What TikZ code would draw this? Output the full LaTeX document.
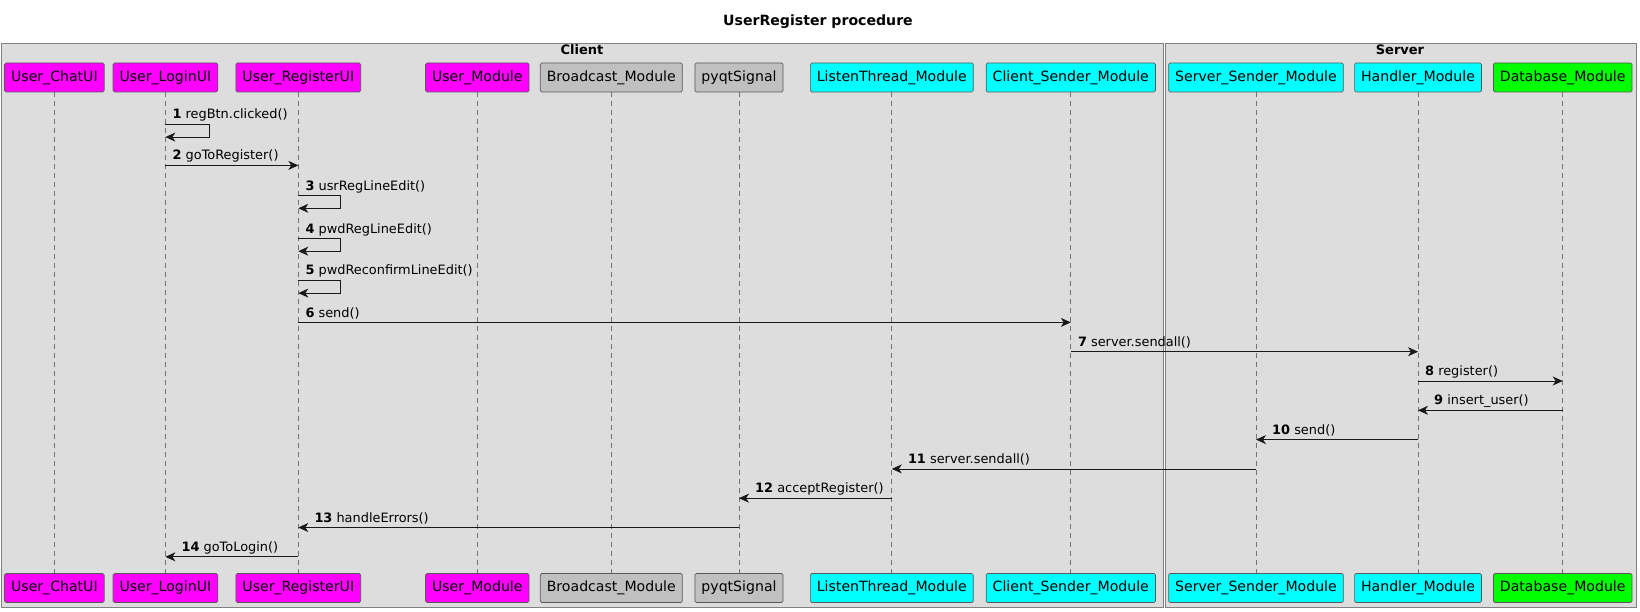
\documentclass[tikz,border=0pt]{standalone}
\usepackage{fontspec}
\setmainfont{DejaVu Sans}
\usetikzlibrary{arrows.meta}
\definecolor{grpbg}{HTML}{DDDDDD}
\definecolor{uimag}{HTML}{FF00FF}
\definecolor{modgray}{HTML}{C0C0C0}
\definecolor{netcyan}{HTML}{00FFFF}
\definecolor{dbgreen}{HTML}{00FF00}
\begin{document}
\begin{tikzpicture}[x=1pt,y=-1pt,
  part/.style={draw=black!65,line width=0.7pt,rounded corners=1.5pt,minimum height=29pt,inner xsep=6.5pt,font=\fontsize{14.1}{16}\selectfont},
  life/.style={black!55,dash pattern=on 5pt off 4pt,line width=0.7pt},
  msg/.style={line width=0.8pt,black!90,-{Stealth[length=10pt,width=9pt,inset=3pt]}},
  lbl/.style={anchor=base west,font=\fontsize{12.9}{15}\selectfont,inner sep=0pt},
  grp/.style={draw=black!50,fill=grpbg,line width=0.9pt},
  grptitle/.style={font=\bfseries\fontsize{13}{15}\selectfont}]
  \fill [white] (0,0) rectangle (1640,612);
  \useasboundingbox (0,0) rectangle (1640,612);
  \node [font=\bfseries\fontsize{14.1}{16}\selectfont] (title) at (818,22) {UserRegister procedure};
  \draw [grp] (1,43) rectangle (1163,607);
  \draw [grp] (1165,43) rectangle (1636,607);
  \node [grptitle] (client) at (582,50) {Client};
  \node [grptitle] (server) at (1400,50) {Server};
  \node [part,fill=uimag] (chat) at (54.4,77.5) {User\_ChatUI};
  \node [part,fill=uimag] (login) at (165.4,77.5) {User\_LoginUI};
  \node [part,fill=uimag] (reg) at (298.3,77.5) {User\_RegisterUI};
  \node [part,fill=uimag] (umod) at (477.3,77.5) {User\_Module};
  \node [part,fill=modgray] (bcast) at (611.3,77.5) {Broadcast\_Module};
  \node [part,fill=modgray] (sig) at (739,77.5) {pyqtSignal};
  \node [part,fill=netcyan] (listen) at (891.8,77.5) {ListenThread\_Module};
  \node [part,fill=netcyan] (csend) at (1070.8,77.5) {Client\_Sender\_Module};
  \node [part,fill=netcyan] (ssend) at (1256,77.5) {Server\_Sender\_Module};
  \node [part,fill=netcyan] (hand) at (1418,77.5) {Handler\_Module};
  \node [part,fill=dbgreen] (db) at (1562.7,77.5) {Database\_Module};
  \node [part,fill=uimag] (chatb) at (54.4,588) {User\_ChatUI};
  \node [part,fill=uimag] (loginb) at (165.4,588) {User\_LoginUI};
  \node [part,fill=uimag] (regb) at (298.3,588) {User\_RegisterUI};
  \node [part,fill=uimag] (umodb) at (477.3,588) {User\_Module};
  \node [part,fill=modgray] (bcastb) at (611.3,588) {Broadcast\_Module};
  \node [part,fill=modgray] (sigb) at (739,588) {pyqtSignal};
  \node [part,fill=netcyan] (listenb) at (891.8,588) {ListenThread\_Module};
  \node [part,fill=netcyan] (csendb) at (1070.8,588) {Client\_Sender\_Module};
  \node [part,fill=netcyan] (ssendb) at (1256,588) {Server\_Sender\_Module};
  \node [part,fill=netcyan] (handb) at (1418,588) {Handler\_Module};
  \node [part,fill=dbgreen] (dbb) at (1562.7,588) {Database\_Module};
  \draw [life] (chat) -- (chatb);
  \draw [life] (login) -- (loginb);
  \draw [life] (reg) -- (regb);
  \draw [life] (umod) -- (umodb);
  \draw [life] (bcast) -- (bcastb);
  \draw [life] (sig) -- (sigb);
  \draw [life] (listen) -- (listenb);
  \draw [life] (csend) -- (csendb);
  \draw [life] (ssend) -- (ssendb);
  \draw [life] (hand) -- (handb);
  \draw [life] (db) -- (dbb);
  \draw [msg] (login |- 0,124.6) -- ++(44,0) |- (login |- 0,137.1);
  \node [lbl] (m1) at ([xshift=7pt]login |- 0,119) {\textbf{1} regBtn.clicked()};
  \draw [msg] (login |- 0,165.4) -- (reg |- 0,165.4);
  \node [lbl] (m2) at ([xshift=7pt]login |- 0,160) {\textbf{2} goToRegister()};
  \draw [msg] (reg |- 0,195.7) -- ++(42,0) |- (reg |- 0,208.3);
  \node [lbl] (m3) at ([xshift=7pt]reg |- 0,190.2) {\textbf{3} usrRegLineEdit()};
  \draw [msg] (reg |- 0,238.6) -- ++(42,0) |- (reg |- 0,251.2);
  \node [lbl] (m4) at ([xshift=7pt]reg |- 0,233.1) {\textbf{4} pwdRegLineEdit()};
  \draw [msg] (reg |- 0,280.5) -- ++(42,0) |- (reg |- 0,293.1);
  \node [lbl] (m5) at ([xshift=7pt]reg |- 0,275) {\textbf{5} pwdReconfirmLineEdit()};
  \draw [msg] (reg |- 0,322.4) -- (csend |- 0,322.4);
  \node [lbl] (m6) at ([xshift=7pt]reg |- 0,317) {\textbf{6} send()};
  \draw [msg] (csend |- 0,351.7) -- (hand |- 0,351.7);
  \node [lbl] (m7) at ([xshift=7pt]csend |- 0,346.2) {\textbf{7} server.sendall()};
  \draw [msg] (hand |- 0,381) -- (db |- 0,381);
  \node [lbl] (m8) at ([xshift=7pt]hand |- 0,375.5) {\textbf{8} register()};
  \draw [msg] (db |- 0,410.3) -- (hand |- 0,410.3);
  \node [lbl] (m9) at ([xshift=16pt]hand |- 0,404.8) {\textbf{9} insert\_user()};
  \draw [msg] (hand |- 0,439.6) -- (ssend |- 0,439.6);
  \node [lbl] (m10) at ([xshift=16pt]ssend |- 0,434.1) {\textbf{10} send()};
  \draw [msg] (ssend |- 0,468.9) -- (listen |- 0,468.9);
  \node [lbl] (m11) at ([xshift=16pt]listen |- 0,463.4) {\textbf{11} server.sendall()};
  \draw [msg] (listen |- 0,498.2) -- (sig |- 0,498.2);
  \node [lbl] (m12) at ([xshift=16pt]sig |- 0,492.7) {\textbf{12} acceptRegister()};
  \draw [msg] (sig |- 0,527.5) -- (reg |- 0,527.5);
  \node [lbl] (m13) at ([xshift=16pt]reg |- 0,522) {\textbf{13} handleErrors()};
  \draw [msg] (reg |- 0,556.8) -- (login |- 0,556.8);
  \node [lbl] (m14) at ([xshift=16pt]login |- 0,551.3) {\textbf{14} goToLogin()};
\end{tikzpicture}
\end{document}
